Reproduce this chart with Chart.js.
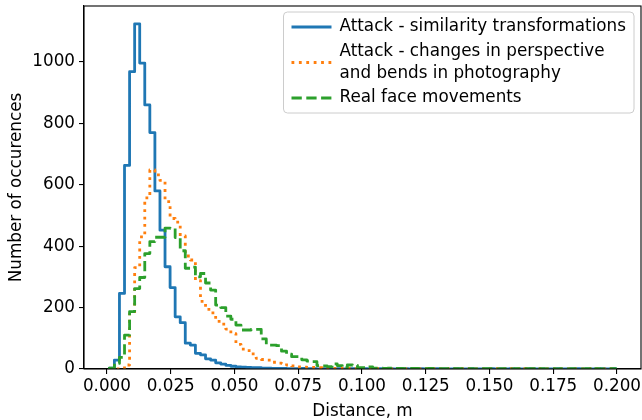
<!DOCTYPE html>
<html>
<head>
<meta charset="utf-8">
<script src="https://cdn.jsdelivr.net/npm/chart.js@4/dist/chart.umd.min.js"></script>
<style>
  body { margin: 0; background: #fff; }
</style>
</head>
<body>
<canvas id="hist-chart" width="642" height="420"></canvas>
<script>
// histogram bins: 100 equal bins, first edge and width
var binStart = 0.00093
var binWidth = 0.0019855

var seriesLabels = [
      ["Attack - similarity transformations"],
      ["Attack - changes in perspective", "and bends in photography"],
      ["Real face movements"]
]

var similarityCounts = [
      3, 29, 246, 663, 968, 1124, 996, 860, 770, 580,
      452, 333, 265, 170, 151, 84, 78, 51, 46, 33,
      29, 20, 16, 12, 9, 7, 6, 5, 4, 4,
      3, 3, 2, 2, 2, 1, 1, 1, 2, 1,
      1, 0, 1, 1, 0, 1, 0, 1, 1, 0,
      1, 0, 0, 1, 0, 1, 0, 0, 1, 0,
      0, 1, 0, 0, 1, 0, 0, 0, 1, 0,
      0, 1, 0, 0, 0, 1, 0, 0, 0, 1,
      0, 0, 0, 1, 0, 0, 0, 0, 1, 0,
      0, 0, 1, 0, 0, 0, 0, 1, 0, 1
]
var perspectiveCounts = [
      0, 0, 3, 13, 180, 330, 430, 557, 648, 632,
      614, 545, 490, 478, 433, 368, 355, 288, 220, 194,
      183, 155, 146, 130, 115, 80, 65, 60, 49, 35,
      31, 29, 22, 19, 18, 13, 10, 7, 6, 5,
      5, 4, 3, 3, 2, 2, 3, 2, 1, 2,
      1, 1, 2, 1, 1, 0, 1, 1, 0, 1,
      1, 0, 1, 0, 1, 0, 0, 1, 0, 1,
      0, 1, 0, 0, 1, 0, 1, 0, 0, 1,
      0, 0, 1, 0, 0, 1, 0, 0, 1, 0,
      0, 1, 0, 0, 0, 1, 0, 0, 1, 0
]
var realFaceCounts = [
      3, 18, 38, 110, 187, 262, 298, 376, 415, 429,
      429, 459, 458, 428, 385, 328, 332, 300, 311, 280,
      257, 208, 200, 172, 162, 143, 127, 127, 129, 129,
      98, 78, 78, 76, 58, 48, 40, 40, 30, 26,
      24, 11, 10, 8, 17, 11, 4, 13, 12, 4,
      4, 7, 3, 3, 2, 3, 2, 2, 1, 2,
      2, 1, 1, 2, 1, 1, 1, 2, 1, 1,
      1, 1, 0, 1, 1, 1, 0, 1, 1, 0,
      1, 0, 1, 1, 0, 1, 0, 1, 0, 1,
      0, 1, 0, 0, 1, 0, 1, 0, 0, 1
]

var xTicks = [0, 0.025, 0.05, 0.075, 0.1, 0.125, 0.15, 0.175, 0.2]
var yTicks = [0, 200, 400, 600, 800, 1000]

var FONT = 16.8

// outline of a step histogram: up at the first edge, across each bin, down at the last edge
function stepOutline(counts) {
      var pts = [{ x: binStart, y: 0 }]
      for (var i = 0; i < counts.length; i++) {
            pts.push({ x: binStart + i * binWidth, y: counts[i] })
      }
      pts.push({ x: binStart + counts.length * binWidth, y: 0 })
      return pts
}

// matplotlib-like frame and legend
var frameAndLegend = {
      id: 'frameAndLegend',
      afterDraw: function(chart) {
            var ctx = chart.ctx
            var area = chart.chartArea
            ctx.save()
            ctx.strokeStyle = '#000'
            ctx.lineWidth = 1.1
            ctx.strokeRect(area.left, area.top, area.right - area.left, area.bottom - area.top)

            ctx.font = FONT + 'px "DejaVu Sans"'
            var maxW = 0
            seriesLabels.forEach(function(lines) {
                  lines.forEach(function(t) { maxW = Math.max(maxW, ctx.measureText(t).width) })
            })
            var pad = 8, handle = 40, gap = 8, lineStep = 22, rowGap = 2.5
            var boxRight = area.right - 7
            var boxLeft = boxRight - (pad + handle + gap + maxW + pad)
            var boxTop = area.top + 6
            var boxBottom = boxTop + 101

            ctx.beginPath()
            ctx.roundRect(boxLeft, boxTop, boxRight - boxLeft, boxBottom - boxTop, 4)
            ctx.fillStyle = 'rgba(255,255,255,0.8)'
            ctx.fill()
            ctx.strokeStyle = '#cccccc'
            ctx.lineWidth = 1
            ctx.stroke()

            var y = boxTop + 15
            ctx.textBaseline = 'middle'
            ctx.textAlign = 'left'
            chart.data.datasets.forEach(function(ds, i) {
                  var lines = seriesLabels[i]
                  var mid = y + (lines.length - 1) * lineStep / 2
                  ctx.beginPath()
                  ctx.setLineDash(ds.borderDash || [])
                  ctx.strokeStyle = ds.borderColor
                  ctx.lineWidth = ds.borderWidth
                  ctx.moveTo(boxLeft + pad, mid)
                  ctx.lineTo(boxLeft + pad + handle, mid)
                  ctx.stroke()
                  ctx.setLineDash([])
                  ctx.fillStyle = '#000'
                  lines.forEach(function(t, j) {
                        ctx.fillText(t, boxLeft + pad + handle + gap, y + j * lineStep)
                  })
                  y += lines.length * lineStep + rowGap
            })
            ctx.restore()
      }
}

Chart.defaults.font.family = '"DejaVu Sans"'
Chart.defaults.font.size = FONT
Chart.defaults.color = '#000'

var ctx = document.getElementById('hist-chart').getContext('2d')
var chart = new Chart(ctx, {
      type: 'line',
      data: {
            datasets: [{
                  label: seriesLabels[0].join(' '),
                  data: stepOutline(similarityCounts),
                  borderColor: '#1f77b4',
                  borderWidth: 2.8,
                  order: 3
            }, {
                  label: seriesLabels[1].join(' '),
                  data: stepOutline(perspectiveCounts),
                  borderColor: '#ff7f0e',
                  borderWidth: 2.8,
                  borderDash: [2.8, 4.6],
                  order: 2
            }, {
                  label: seriesLabels[2].join(' '),
                  data: stepOutline(realFaceCounts),
                  borderColor: '#2ca02c',
                  borderWidth: 2.8,
                  borderDash: [10.3, 4.5],
                  order: 1
            }]
      },
      plugins: [frameAndLegend],
      options: {
            responsive: false,
            animation: false,
            devicePixelRatio: 1,
            layout: { padding: { left: 0, right: 1, top: 6, bottom: 0 } },
            elements: {
                  point: { radius: 0 },
                  line: { stepped: true, tension: 0, fill: false, borderJoinStyle: 'round' }
            },
            plugins: {
                  legend: { display: false },
                  tooltip: { enabled: false }
            },
            scales: {
                  x: {
                        type: 'linear',
                        min: -0.009,
                        max: 0.2094,
                        afterBuildTicks: function(scale) {
                              scale.ticks = xTicks.map(function(v) { return { value: v } })
                        },
                        afterFit: function(scale) {
                              scale.height = 51
                              scale.paddingLeft = 0
                              scale.paddingRight = 0
                        },
                        ticks: {
                              autoSkip: false,
                              maxRotation: 0,
                              padding: 3,
                              callback: function(v) { return v.toFixed(3) }
                        },
                        grid: { drawOnChartArea: false, drawTicks: true, tickLength: 5, color: '#000', lineWidth: 1.1 },
                        border: { color: '#000', width: 1.1 },
                        title: {
                              display: true,
                              text: 'Distance, m',
                              font: { size: FONT, lineHeight: 1 },
                              padding: { top: 0, bottom: 0 }
                        }
                  },
                  y: {
                        min: 0,
                        max: 1182,
                        afterBuildTicks: function(scale) {
                              scale.ticks = yTicks.map(function(v) { return { value: v } })
                        },
                        afterFit: function(scale) {
                              scale.width = 84
                              scale.paddingTop = 0
                              scale.paddingBottom = 0
                        },
                        ticks: {
                              padding: 4,
                              callback: function(v) { return String(v) }
                        },
                        grid: { drawOnChartArea: false, drawTicks: true, tickLength: 5, color: '#000', lineWidth: 1.1 },
                        border: { color: '#000', width: 1.1 },
                        title: {
                              display: true,
                              text: 'Number of occurences',
                              font: { size: FONT, lineHeight: 1 },
                              padding: { top: 8, bottom: 0 }
                        }
                  }
            }
      }
})
</script>
</body>
</html>
